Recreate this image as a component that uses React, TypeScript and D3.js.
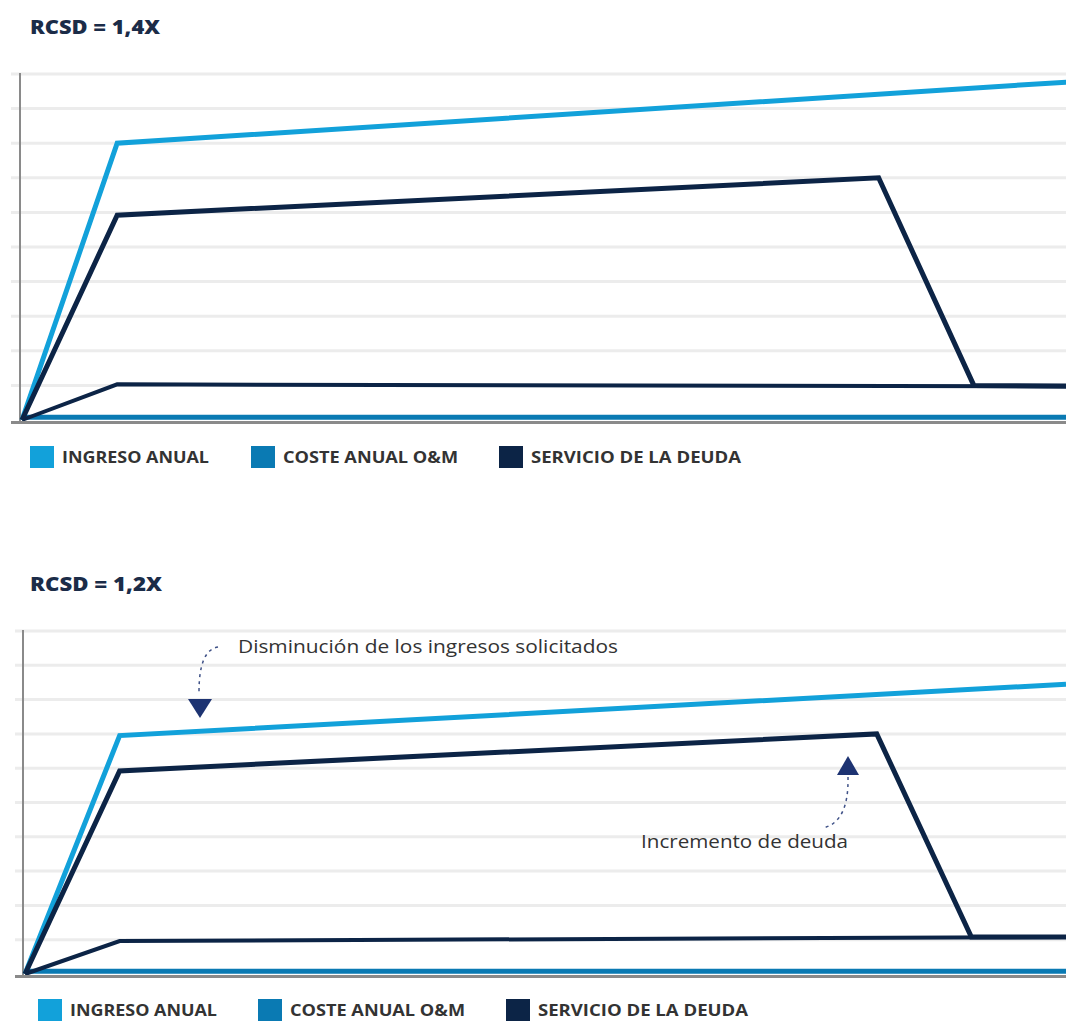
import React from "react";
import * as d3 from "d3";

// ---------- data ----------
const titles = ["RCSD = 1,4X", "RCSD = 1,2X"];
const legendLabels = ["INGRESO ANUAL", "COSTE ANUAL O&M", "SERVICIO DE LA DEUDA"];
const gridValues = [1, 2, 3, 4, 5, 6, 7, 8, 9, 10];

// Panel A (RCSD 1,4X)
const ingresoYearsA = [0, 1, 11];
const ingresoA = [0, 8.0, 9.77];
const deudaYearsA = [0, 1, 9, 10, 11];
const deudaA = [0, 5.92, 7.0, 1.0, 0.98];
const baseYearsA = [0, 1, 11];
const baseA = [0, 1.03, 0.97];
const omYearsA = [0, 11];
const omA = [0.08, 0.08];

// Panel B (RCSD 1,2X)
const ingresoYearsB = [0, 1, 11];
const ingresoB = [0, 6.95, 8.45];
const deudaYearsB = [0, 1, 9, 10, 11];
const deudaB = [0, 5.92, 7.0, 1.08, 1.08];
const baseYearsB = [0, 1, 11];
const baseB = [0, 0.96, 1.08];
const omYearsB = [0, 11];
const omB = [0.08, 0.08];

const annotationTop = "Disminución de los ingresos solicitados";
const annotationBottom = "Incremento de deuda";

// ---------- style ----------
const C_INGRESO = "#12a1da";
const C_OM = "#0a7ab3";
const C_DEUDA = "#0c2446";
const C_GRID = "#ececec";
const C_AXIS = "#8a8a8a";
const C_TITLE = "#1b2c48";
const C_TEXT = "#333333";
const C_ARROW = "#1d3372";
const FONT = "'Open Sans', Lato, sans-serif";
const LEGEND_TEXT_W = [147, 175, 210];

type PanelProps = {
  title: string;
  titleW: number;
  top: number;
  base: number;
  x0: number;
  x11: number;
  axisX: number;
  gridStart: number;
  titleY: number;
  legendY: number;
  legendXs: number[];
  series: { years: number[]; values: number[]; color: string; width: number }[];
};

function Panel(p: PanelProps) {
  const x = d3.scaleLinear().domain([0, 11]).range([p.x0, p.x11]);
  const y = d3.scaleLinear().domain([0, 10]).range([p.base, p.top]);
  const line = d3
    .line<[number, number]>()
    .x((d) => x(d[0]))
    .y((d) => y(d[1]));
  const legendColors = [C_INGRESO, C_OM, C_DEUDA];
  return (
    <g>
      <text
        x={30}
        y={p.titleY}
        fontFamily={FONT}
        fontWeight={800}
        fontSize={19}
        fill={C_TITLE}
        textLength={p.titleW}
        lengthAdjust="spacingAndGlyphs"
      >
        {p.title}
      </text>
      {gridValues.map((v) => (
        <line key={v} x1={p.gridStart} x2={1066} y1={y(v)} y2={y(v)} stroke={C_GRID} strokeWidth={3} />
      ))}
      <line x1={p.axisX} x2={p.axisX} y1={y(10) - 1} y2={p.base + 2} stroke={C_AXIS} strokeWidth={2} />
      {p.series.map((s, i) => (
        <path
          key={i}
          d={line(s.years.map((yr, j) => [yr, s.values[j]]) as [number, number][]) || ""}
          fill="none"
          stroke={s.color}
          strokeWidth={s.width}
          strokeLinejoin="miter"
        />
      ))}
      <line x1={p.gridStart} x2={1066} y1={p.base + 2.5} y2={p.base + 2.5} stroke={C_AXIS} strokeWidth={3} />
      {legendLabels.map((lab, i) => (
        <g key={lab} transform={`translate(${p.legendXs[i]},${p.legendY})`}>
          <rect x={0} y={-11} width={24} height={22} fill={legendColors[i]} />
          <text
            x={32}
            y={5.5}
            fontFamily={FONT}
            fontWeight={700}
            fontSize={16}
            fill={C_TEXT}
            textLength={LEGEND_TEXT_W[i]}
            lengthAdjust="spacingAndGlyphs"
          >
            {lab}
          </text>
        </g>
      ))}
    </g>
  );
}

export default function App() {
  const seriesA = [
    { years: ingresoYearsA, values: ingresoA, color: C_INGRESO, width: 5 },
    { years: omYearsA, values: omA, color: C_OM, width: 5 },
    { years: baseYearsA, values: baseA, color: C_DEUDA, width: 4 },
    { years: deudaYearsA, values: deudaA, color: C_DEUDA, width: 5 },
  ];
  const seriesB = [
    { years: ingresoYearsB, values: ingresoB, color: C_INGRESO, width: 5 },
    { years: omYearsB, values: omB, color: C_OM, width: 5 },
    { years: baseYearsB, values: baseB, color: C_DEUDA, width: 4 },
    { years: deudaYearsB, values: deudaB, color: C_DEUDA, width: 5 },
  ];
  return (
    <div style={{ position: "absolute", left: 0, top: 0 }}>
      <svg width={1066} height={1021} style={{ display: "block", background: "#fff" }}>
        <Panel
          title={titles[0]}
          titleW={130}
          top={74}
          base={420}
          x0={22}
          x11={1069}
          axisX={20}
          gridStart={11}
          titleY={34}
          legendY={457}
          legendXs={[30, 251, 499]}
          series={seriesA}
        />
        <Panel
          title={titles[1]}
          titleW={132}
          top={631}
          base={974}
          x0={25}
          x11={1066}
          axisX={23}
          gridStart={15}
          titleY={591}
          legendY={1010}
          legendXs={[38, 258, 506]}
          series={seriesB}
        />
        {/* annotation 1 */}
        <text
          x={238}
          y={653}
          fontFamily={FONT}
          fontSize={18}
          fill={C_TEXT}
          textLength={380}
          lengthAdjust="spacingAndGlyphs"
        >
          {annotationTop}
        </text>
        <path d="M218,647 Q199,650 199,692" fill="none" stroke={C_ARROW} strokeWidth={1.5} strokeDasharray="3,4" opacity={0.85} />
        <path d="M188,699 L212,699 L200,718 Z" fill={C_ARROW} />
        {/* annotation 2 */}
        <text
          x={641}
          y={848}
          fontFamily={FONT}
          fontSize={18}
          fill={C_TEXT}
          textLength={207}
          lengthAdjust="spacingAndGlyphs"
        >
          {annotationBottom}
        </text>
        <path d="M848,777 Q849,822 823,828" fill="none" stroke={C_ARROW} strokeWidth={1.5} strokeDasharray="3,4" opacity={0.85} />
        <path d="M837,775 L859,775 L848,756 Z" fill={C_ARROW} />
      </svg>
    </div>
  );
}
